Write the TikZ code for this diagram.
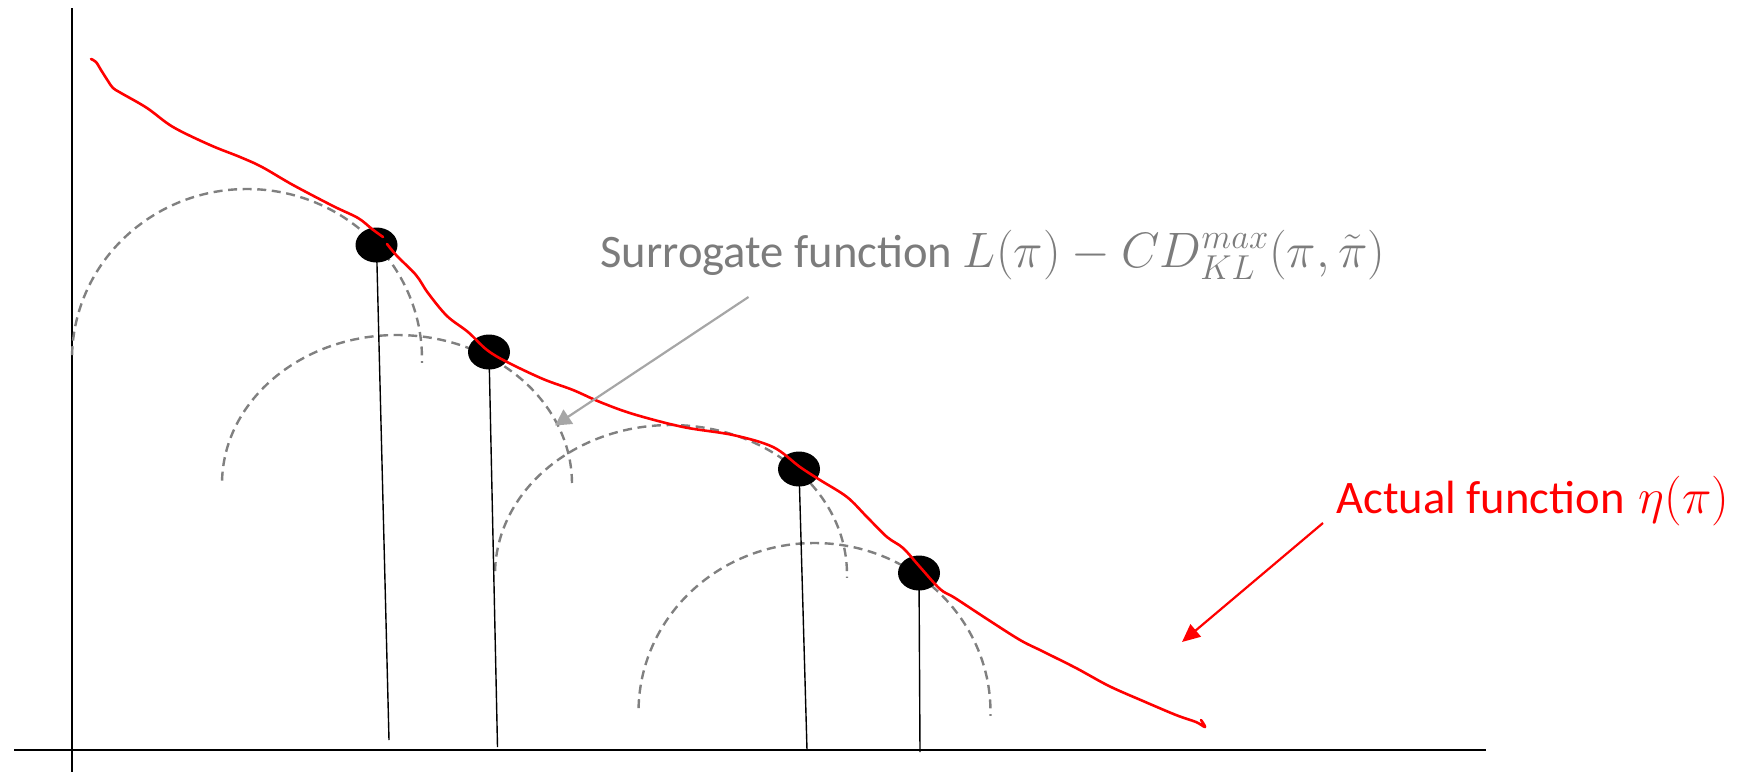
\documentclass[tikz,border=0pt]{standalone}
\usepackage[no-math]{fontspec}
\setmainfont{Carlito}
\usetikzlibrary{shapes.geometric,arrows.meta}
\definecolor{arcgray}{RGB}{128,128,128}
\definecolor{txtgray}{RGB}{124,124,124}
\definecolor{arrgray}{RGB}{166,166,166}
\definecolor{pred}{RGB}{255,0,0}
\tikzset{
  axisline/.style={black, line width=0.8pt},
  vline/.style={black, line width=0.7pt},
  dasharc/.style={arcgray, line width=1.2pt, dash pattern=on 4.5pt off 2.8pt},
  dotn/.style={ellipse, fill=black, draw=none, minimum width=21pt, minimum height=17.5pt, inner sep=0pt},
  redcurve/.style={pred, line width=1.3pt, line cap=round, line join=round},
  grayarrow/.style={arrgray, line width=1.1pt, -{Triangle[length=8pt,width=8.5pt]}},
  redarrow/.style={pred, line width=1.1pt, -{Triangle[length=9pt,width=8pt]}},
  lbl/.style={inner sep=0pt, anchor=base west, font=\fontsize{23.3pt}{28pt}\selectfont}
}
\begin{document}
\begin{tikzpicture}[x=0.5pt,y=-0.5pt]
\useasboundingbox (0,0) rectangle (1757,772);
% axes
\coordinate (yt) at (72,8);
\coordinate (yb) at (72,772);
\coordinate (xl) at (14,750);
\coordinate (xr) at (1486,750);
\draw[axisline] (yt) -- (yb);
\draw[axisline] (xl) -- (xr);
% dashed arcs (upper halves of ellipses)
\draw[dasharc] (247,359) ++(181.3:175 and 170) arc[start angle=181.3, end angle=361.3, x radius=175, y radius=170];
\draw[dasharc] (397,484) ++(181.3:175 and 149) arc[start angle=181.3, end angle=361.3, x radius=175, y radius=149];
\draw[dasharc] (671,574.5) ++(181.3:176 and 149.5) arc[start angle=181.3, end angle=361.3, x radius=176, y radius=149.5];
\draw[dasharc] (814.5,712) ++(181.3:176 and 169) arc[start angle=181.3, end angle=361.3, x radius=176, y radius=169];
% dots
\node[dotn] (d1) at (376.5,245) {};
\node[dotn] (d2) at (489,352) {};
\node[dotn] (d3) at (799,469) {};
\node[dotn] (d4) at (919,573) {};
\coordinate (b1) at (389,740);
\coordinate (b2) at (497.5,747);
\coordinate (b3) at (807,750);
\coordinate (b4) at (920,752);
\draw[vline] (d1.center) -- (b1);
\draw[vline] (d2.center) -- (b2);
\draw[vline] (d3.center) -- (b3);
\draw[vline] (d4.center) -- (b4);
% actual function curve
\draw[redcurve] plot[smooth, tension=0.55] coordinates {(91,59) (96,62) (101,70) (108,81) (113,88) (121,93) (147,108) (173,127) (210,145) (240,157) (262,167) (293,185) (333,206) (358,218) (372,229) (383,237)};
\draw[redcurve] plot[smooth, tension=0.55] coordinates {(387,244) (397,256) (416,275) (428,293) (447,316) (468,332) (487,350) (507,362) (543,379) (573,390) (600,402) (633,414) (683,427) (733,435) (773,447) (800,467) (820,480) (847,497) (867,517) (887,537) (903,548) (920,567) (940,589) (955,598) (987,619) (1020,640) (1042,651) (1076,668) (1109,686) (1143,701) (1176,715) (1196,722) (1205,727) (1201,720)};
% pointer arrows
\coordinate (gs) at (748.5,297);
\coordinate (ge) at (555,425.5);
\draw[grayarrow] (gs) -- (ge);
\coordinate (rs) at (1323,523);
\coordinate (re) at (1182,642);
\draw[redarrow] (rs) -- (re);
% labels
\node[lbl, text=txtgray] (surr) at (600,267) {Surrogate function $L(\pi) - CD_{KL}^{max}(\pi,\tilde{\pi})$};
\node[lbl, text=pred] (act) at (1336,513) {Actual function\hspace{7pt}$\eta(\pi)$};
\end{tikzpicture}
\end{document}
